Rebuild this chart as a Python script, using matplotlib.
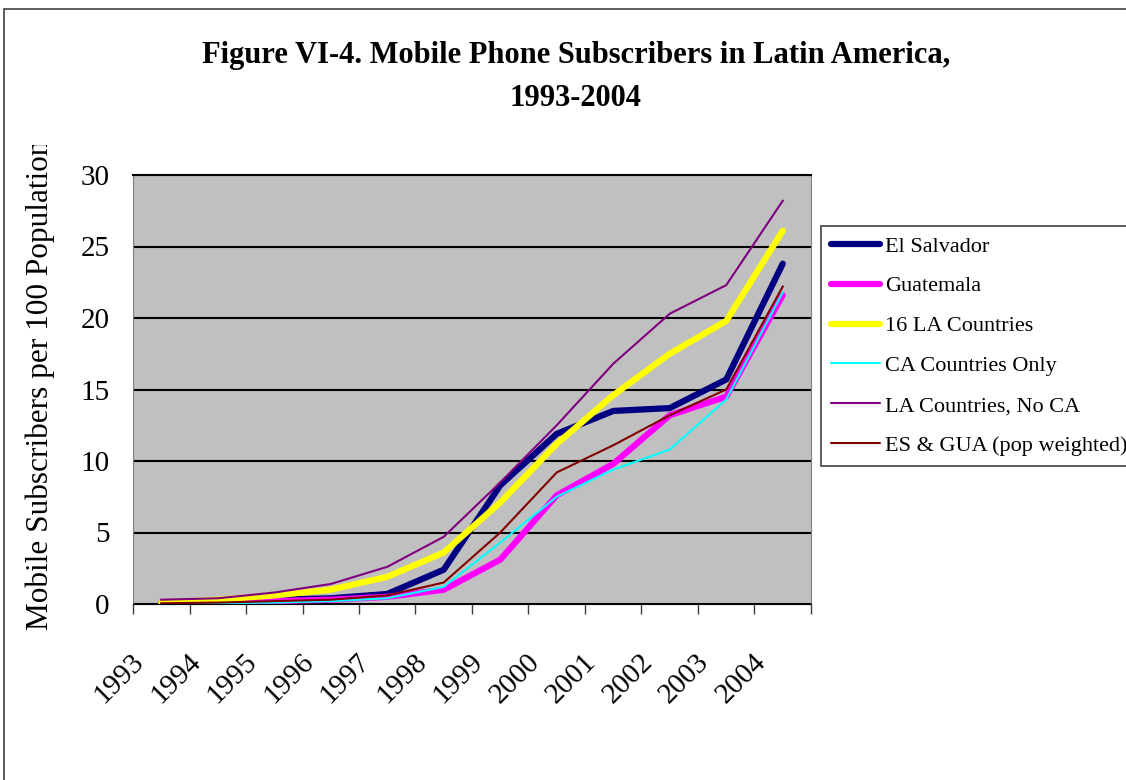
import matplotlib
matplotlib.use("Agg")
import matplotlib.pyplot as plt
import matplotlib.transforms as mtransforms
from matplotlib.patches import Rectangle

years = ["1993", "1994", "1995", "1996", "1997", "1998",
         "1999", "2000", "2001", "2002", "2003", "2004"]

el_salvador = [0.1, 0.2, 0.3, 0.4, 0.7, 2.4, 8.3, 11.9, 13.5, 13.7, 15.7, 23.8]
guatemala = [0.0, 0.1, 0.2, 0.3, 0.5, 1.0, 3.1, 7.6, 9.8, 13.2, 14.5, 21.6]
la16 = [0.1, 0.3, 0.6, 1.0, 1.9, 3.6, 7.1, 11.2, 14.6, 17.5, 19.8, 26.1]
ca_only = [0.0, 0.05, 0.1, 0.2, 0.4, 1.2, 4.3, 7.5, 9.4, 10.8, 14.3, 21.8]
la_no_ca = [0.3, 0.4, 0.8, 1.4, 2.6, 4.7, 8.5, 12.5, 16.8, 20.3, 22.3, 28.2]
es_gua = [0.05, 0.1, 0.2, 0.3, 0.6, 1.5, 5.0, 9.2, 11.1, 13.2, 15.0, 22.2]

W, H = 1126, 780
fig = plt.figure(figsize=(W / 100, H / 100), dpi=100)
plt.rcParams['font.family'] = ['Liberation Serif', 'DejaVu Serif']

# chart area border (only top and left edge are in view)
fig.patches.append(Rectangle((4 / W, -0.5), 2, 1.5 - 9 / H, transform=fig.transFigure,
                             fill=False, edgecolor='#404040', lw=1.2))

ax = fig.add_axes([133 / W, 1 - 604 / H, (811 - 133) / W, (604 - 175) / H])
ax.set_facecolor('#C0C0C0')

x = list(range(len(years)))
ax.plot(x, el_salvador, color='#000080', lw=4.5, solid_capstyle='round', solid_joinstyle='round', label='El Salvador')
ax.plot(x, guatemala, color='#FF00FF', lw=4.5, solid_capstyle='round', solid_joinstyle='round', label='Guatemala')
ax.plot(x, la16, color='#FFFF00', lw=4.5, solid_capstyle='round', solid_joinstyle='round', label='16 LA Countries')
ax.plot(x, ca_only, color='#00FFFF', lw=1.5, label='CA Countries Only')
ax.plot(x, la_no_ca, color='#800080', lw=1.5, label='LA Countries, No CA')
ax.plot(x, es_gua, color='#800000', lw=1.5, label='ES & GUA (pop weighted)')

ax.set_xlim(-0.5, len(years) - 0.5)
ax.set_ylim(0, 30)
ax.set_yticks(range(0, 31, 5))
ax.yaxis.grid(True, color='black', lw=1.5)
ax.set_axisbelow(True)
ax.tick_params(axis='y', length=0, pad=17, labelsize=21)

# tick marks between categories, labels on the categories
ax.set_xticks([i - 0.5 for i in range(len(years) + 1)], minor=True)
ax.set_xticks(x)
ax.set_xticklabels(years, rotation=45, ha='right', va='top', fontsize=21)
ax.tick_params(axis='x', which='major', length=0, pad=32)
ax.tick_params(axis='x', which='minor', length=7, width=1, color='#404040')
shift = mtransforms.ScaledTranslation(-12 / 100, 0, fig.dpi_scale_trans)
for lab in ax.get_xticklabels():
    lab.set_transform(lab.get_transform() + shift)

for side in ['left', 'right']:
    ax.spines[side].set_color('#808080')
ax.spines['bottom'].set_color('black')
ax.spines['top'].set_color('black')
ax.spines['top'].set_linewidth(1.5)

yl = fig.text(40 / W, 1 - 630 / H, 'Mobile Subscribers per 100 Population', rotation=90,
              ha='center', va='bottom', fontsize=22.5)
yl.set_clip_on(True)
yl.set_clip_box(mtransforms.TransformedBbox(
    mtransforms.Bbox([[0, 0], [1, 1 - 145 / H]]), fig.transFigure))

fig.text(576 / W, 1 - 55 / H, 'Figure VI-4. Mobile Phone Subscribers in Latin America,',
         ha='center', va='center', fontsize=22, fontweight='bold')
fig.text(576 / W, 1 - 98 / H, '1993-2004', ha='center', va='center', fontsize=22, fontweight='bold')

leg = ax.legend(loc='upper left', bbox_to_anchor=(821 / W, 1 - 226 / H),
                bbox_transform=fig.transFigure, borderaxespad=0, fontsize=16,
                frameon=True, fancybox=False, edgecolor='#404040', framealpha=1,
                handlelength=2.2, handletextpad=0.23, labelspacing=0.87,
                borderpad=0.45)
leg.get_frame().set_linewidth(1.2)
for line in leg.get_lines():
    line.set_solid_capstyle('round')

fig.savefig('out.png', dpi=100)
